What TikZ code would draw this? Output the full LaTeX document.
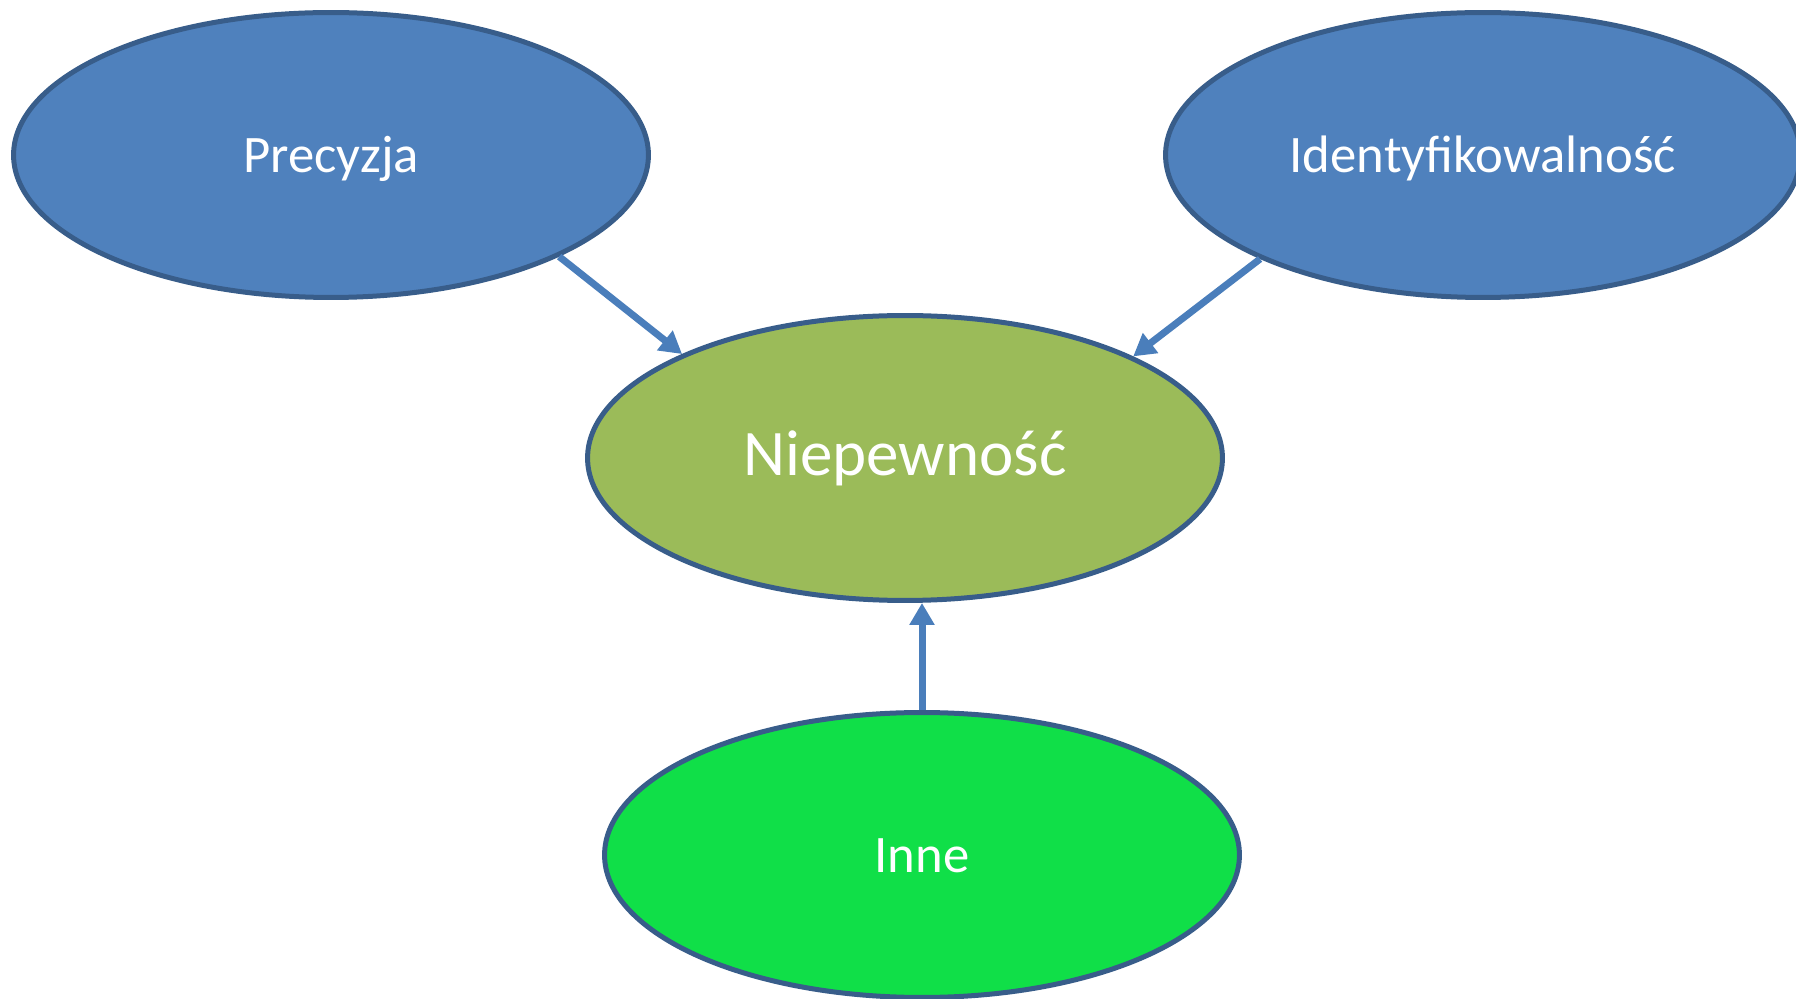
\documentclass[tikz,border=0pt]{standalone}
\usepackage{fontspec}
\setmainfont{Carlito}
\usetikzlibrary{positioning, arrows.meta, shapes.geometric}
\definecolor{officeblue}{HTML}{4F81BD}
\definecolor{officeline}{HTML}{385D8A}
\definecolor{officeolive}{HTML}{9BBB59}
\definecolor{brightgreen}{HTML}{10DF48}
\definecolor{arrowblue}{HTML}{4A7EBB}
\tikzset{
  > = {Triangle[length = 0.44cm, width = 0.48cm]},
  shorten > = 0pt,
  factor/.style = {ellipse, draw = officeline, line width = 0.1cm,
    minimum width = 12.7cm, minimum height = 5.7cm, inner sep = 0pt,
    text height = 0.9cm, text depth = 0.2cm,
    text = white, font = \fontsize{30}{36}\selectfont},
  source/.style = {factor, fill = officeblue},
  effect/.style = {->, draw = arrowblue, line width = 0.14cm}
}
\begin{document}
\begin{tikzpicture}[x = 0.02cm, y = -0.02cm]

\useasboundingbox (0,0) rectangle (1796,999);

\node [source] (prec) at (331,155) {Precyzja};
\node [source] (ident) at (1483,155) {Identyfikowalność};
\node [factor, fill = officeolive, font = \fontsize{37}{44}\selectfont]
  (niep) at (905,458) {Niepewność};
\node [factor, fill = brightgreen] (inne) at (922,855) {Inne};

\draw [effect] (prec.-24) -- (niep.155);
\draw [effect] (ident.205) -- (niep.24);
\draw [effect] (inne.north) -- (inne.north |- niep.south);

\end{tikzpicture}
\end{document}
